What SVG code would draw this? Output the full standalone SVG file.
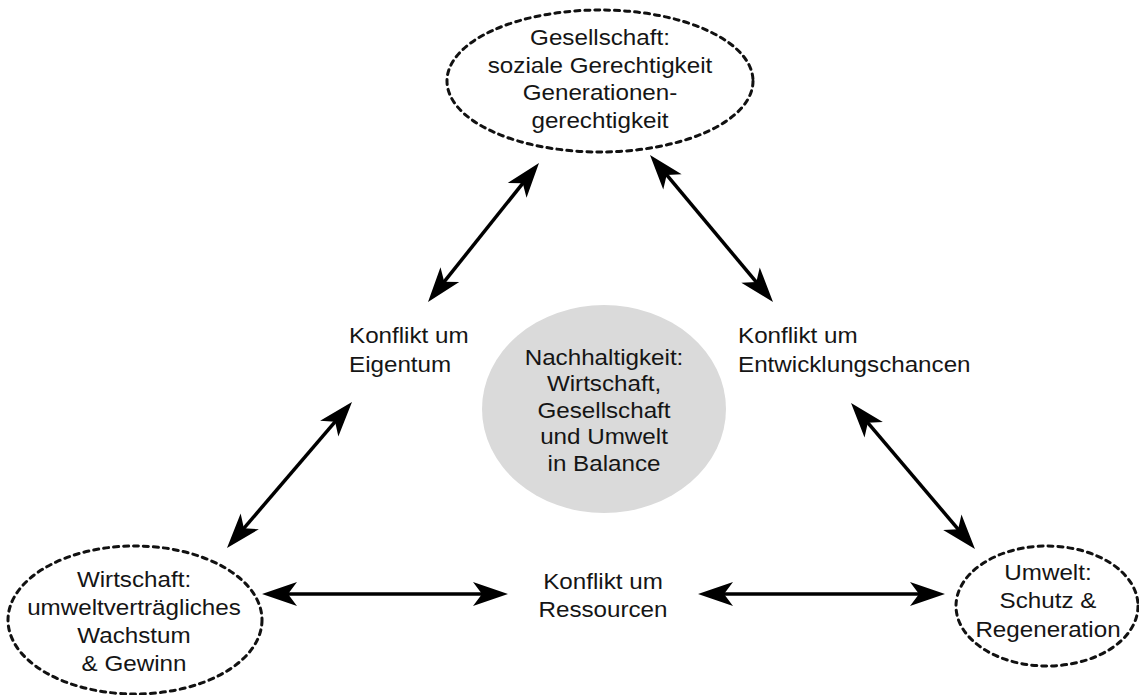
<svg xmlns="http://www.w3.org/2000/svg" width="1139" height="695" viewBox="0 0 1139 695">
<style>
.bg{fill:#ffffff}
.pillar{fill:none;stroke:#111;stroke-width:3;stroke-dasharray:5 5;stroke-linecap:round}
.core{fill:#dadada;stroke:none}
.t{font-family:"Liberation Sans",Arial,sans-serif;font-size:22px;fill:#151515}
.c{text-anchor:middle}
.conn{stroke:#000;stroke-width:3.5;fill:none;marker-start:url(#ah);marker-end:url(#ah)}
</style>
<defs>
<marker id="ah" markerUnits="userSpaceOnUse" viewBox="-26 -14 40 28" refX="0" refY="0" markerWidth="40" markerHeight="28" orient="auto-start-reverse">
<path d="M12,0 L-23,-12 L-14,0 L-23,12 Z" fill="#000"/>
</marker>
</defs>
<rect class="bg" x="0" y="0" width="1139" height="695"/>

<g id="connectors">
<line class="conn" x1="274" y1="594" x2="496" y2="594"/>
<line class="conn" x1="710" y1="594" x2="933" y2="594"/>
<line class="conn" x1="435.5" y1="292.6" x2="531.5" y2="172.4"/>
<line class="conn" x1="657.7" y1="164.2" x2="765.3" y2="292.8"/>
<line class="conn" x1="344.2" y1="411.1" x2="234.8" y2="538.9"/>
<line class="conn" x1="858.8" y1="412.1" x2="967.2" y2="539.9"/>
</g>

<g id="gesellschaft">
<ellipse class="pillar" cx="600" cy="81" rx="153" ry="71"/>
<text class="t c" transform="matrix(1.1 0 0 1 600 0)"><tspan x="0" y="45">Gesellschaft:</tspan><tspan x="0" y="73">soziale Gerechtigkeit</tspan><tspan x="0" y="100">Generationen-</tspan><tspan x="0" y="128">gerechtigkeit</tspan></text>
</g>

<g id="wirtschaft">
<ellipse class="pillar" cx="135" cy="620" rx="127" ry="74"/>
<text class="t c" transform="matrix(1.1 0 0 1 134 0)"><tspan x="0" y="587">Wirtschaft:</tspan><tspan x="0" y="615">umweltverträgliches</tspan><tspan x="0" y="643">Wachstum</tspan><tspan x="0" y="671">&amp; Gewinn</tspan></text>
</g>

<g id="umwelt">
<ellipse class="pillar" cx="1047" cy="606" rx="91" ry="60"/>
<text class="t c" transform="matrix(1.1 0 0 1 1048 0)"><tspan x="0" y="580">Umwelt:</tspan><tspan x="0" y="608">Schutz &amp;</tspan><tspan x="0" y="637">Regeneration</tspan></text>
</g>

<g id="nachhaltigkeit">
<ellipse class="core" cx="604" cy="409" rx="122" ry="104"/>
<text class="t c" transform="matrix(1.1 0 0 1 604 0)"><tspan x="0" y="365">Nachhaltigkeit:</tspan><tspan x="0" y="391.5">Wirtschaft,</tspan><tspan x="0" y="418">Gesellschaft</tspan><tspan x="0" y="444.5">und Umwelt</tspan><tspan x="0" y="471">in Balance</tspan></text>
</g>

<g id="konflikt-eigentum">
<text class="t" transform="matrix(1.1 0 0 1 349 0)"><tspan x="0" y="343">Konflikt um</tspan><tspan x="0" y="372">Eigentum</tspan></text>
</g>

<g id="konflikt-entwicklung">
<text class="t" transform="matrix(1.1 0 0 1 738 0)"><tspan x="0" y="343">Konflikt um</tspan><tspan x="0" y="372">Entwicklungschancen</tspan></text>
</g>

<g id="konflikt-ressourcen">
<text class="t c" transform="matrix(1.1 0 0 1 603 0)"><tspan x="0" y="589">Konflikt um</tspan><tspan x="0" y="617">Ressourcen</tspan></text>
</g>
</svg>
